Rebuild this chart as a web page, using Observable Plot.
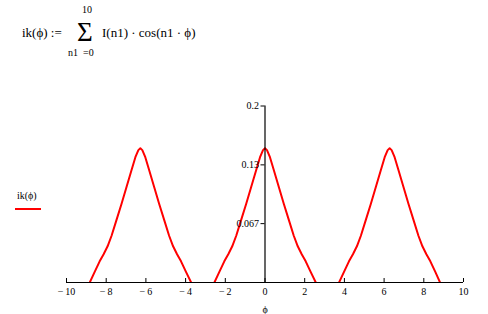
<!DOCTYPE html>
<html>
<head>
<meta charset="utf-8">
<script src="https://cdn.jsdelivr.net/npm/d3@7"></script>
<script src="https://cdn.jsdelivr.net/npm/@observablehq/plot@0.6"></script>
<style>
  html, body { margin: 0; padding: 0; background: #fff; }
  #wrap { position: relative; width: 488px; height: 314px; overflow: hidden; font-family: "Liberation Serif", "DejaVu Serif", serif; color: #000; }
  .t { position: absolute; white-space: nowrap; line-height: 1; }
  #chart { position: absolute; left: 0; top: 0; }
</style>
</head>
<body>
<div id="wrap">
  <div id="chart"></div>
  <span class="t" style="left:22px; top:26px; font-size:13px;">ik(ϕ) :=</span>
  <span class="t" style="left:77px; top:19px; font-size:27px;">Σ</span>
  <span class="t" style="left:82px; top:5px; font-size:10px;">10</span>
  <span class="t" style="left:68px; top:48px; font-size:10px;">n1&nbsp;&nbsp;=0</span>
  <span class="t" style="left:102px; top:26px; font-size:13px;">I(n1) · cos(n1 · ϕ)</span>
  <span class="t" style="left:17px; top:191px; font-size:10px;">ik(ϕ)</span>
  <div style="position:absolute; left:15px; top:208px; width:26px; height:2px; background:#ff0000;"></div>
</div>
<script>
const phi = [
  -8.83,-8.58,-8.33,-8.13,-7.93,-7.73,-7.48,-7.23,-6.98,-6.73,-6.53,-6.38,-6.28,-6.18,-6.03,-5.83,-5.58,-5.33,-5.08,-4.83,-4.63,-4.43,-4.23,-3.98,-3.72, NaN,
  -2.55,-2.30,-2.05,-1.85,-1.65,-1.45,-1.20,-0.95,-0.70,-0.45,-0.25,-0.10,0.00,0.10,0.25,0.45,0.70,0.95,1.20,1.45,1.65,1.85,2.05,2.30,2.56, NaN,
  3.73,3.98,4.23,4.43,4.63,4.83,5.08,5.33,5.58,5.83,6.03,6.18,6.28,6.38,6.53,6.73,6.98,7.23,7.48,7.73,7.93,8.13,8.33,8.58,8.82
];
const ik = [
  0.000,0.012,0.024,0.032,0.041,0.053,0.071,0.089,0.108,0.127,0.142,0.150,0.152,0.150,0.142,0.127,0.108,0.089,0.071,0.053,0.041,0.032,0.024,0.012,0.000, NaN,
  0.000,0.012,0.024,0.032,0.041,0.053,0.071,0.089,0.108,0.127,0.142,0.150,0.152,0.150,0.142,0.127,0.108,0.089,0.071,0.053,0.041,0.032,0.024,0.012,0.000, NaN,
  0.000,0.012,0.024,0.032,0.041,0.053,0.071,0.089,0.108,0.127,0.142,0.150,0.152,0.150,0.142,0.127,0.108,0.089,0.071,0.053,0.041,0.032,0.024,0.012,0.000
];
const xTicks = [-10,-8,-6,-4,-2,0,2,4,6,8,10];
const xTickLabels = ["\u2212\u200910","\u2212\u20098","\u2212\u20096","\u2212\u20094","\u2212\u20092","0","2","4","6","8","10"];
const yTicks = [0.0667, 0.1333, 0.2];
const yTickLabels = ["0.067", "0.13", "0.2"];
const xLabel = "ϕ";

const xLab = new Map(xTicks.map((v, i) => [v, xTickLabels[i]]));
const yLab = new Map(yTicks.map((v, i) => [v, yTickLabels[i]]));
const pts = phi.map((p, i) => ({phi: p, ik: ik[i]}));

const mL = 66, mR = 25, mT = 105.5, mB = 32, W = 488;
const xZeroOffset = (W - mL - mR) / 2; // y axis drawn at phi = 0

const chart = Plot.plot({
  width: W,
  height: 314,
  marginLeft: mL,
  marginRight: mR,
  marginTop: mT,
  marginBottom: mB,
  style: {fontFamily: "'Liberation Serif', serif", fontSize: "10px", background: "#fff", color: "#000"},
  x: {domain: [-10, 10], axis: null, label: null},
  y: {domain: [0, 0.2], axis: null, label: null},
  marks: [
    Plot.line(pts, {x: "phi", y: "ik", stroke: "#ff0000", strokeWidth: 2, clip: true}),
    Plot.ruleY([0], {stroke: "#000", strokeWidth: 1.2}),
    Plot.ruleX([0], {stroke: "#000", strokeWidth: 1.2}),
    Plot.axisX(xTicks, {anchor: "bottom", tickSize: 4, dy: -4, text: null, label: null, stroke: "#000"}),
    Plot.axisX(xTicks, {anchor: "bottom", tickSize: 0, tickPadding: 5, tickFormat: d => xLab.get(d), fill: "#000", label: xLabel, labelAnchor: "center", labelArrow: "none", labelOffset: 30}),
    Plot.axisY(yTicks, {anchor: "left", tickSize: 4, dx: xZeroOffset, tickPadding: 2, tickFormat: d => yLab.get(d), fill: "#000", label: null})
  ]
});
document.getElementById("chart").appendChild(chart);
</script>
</body>
</html>
